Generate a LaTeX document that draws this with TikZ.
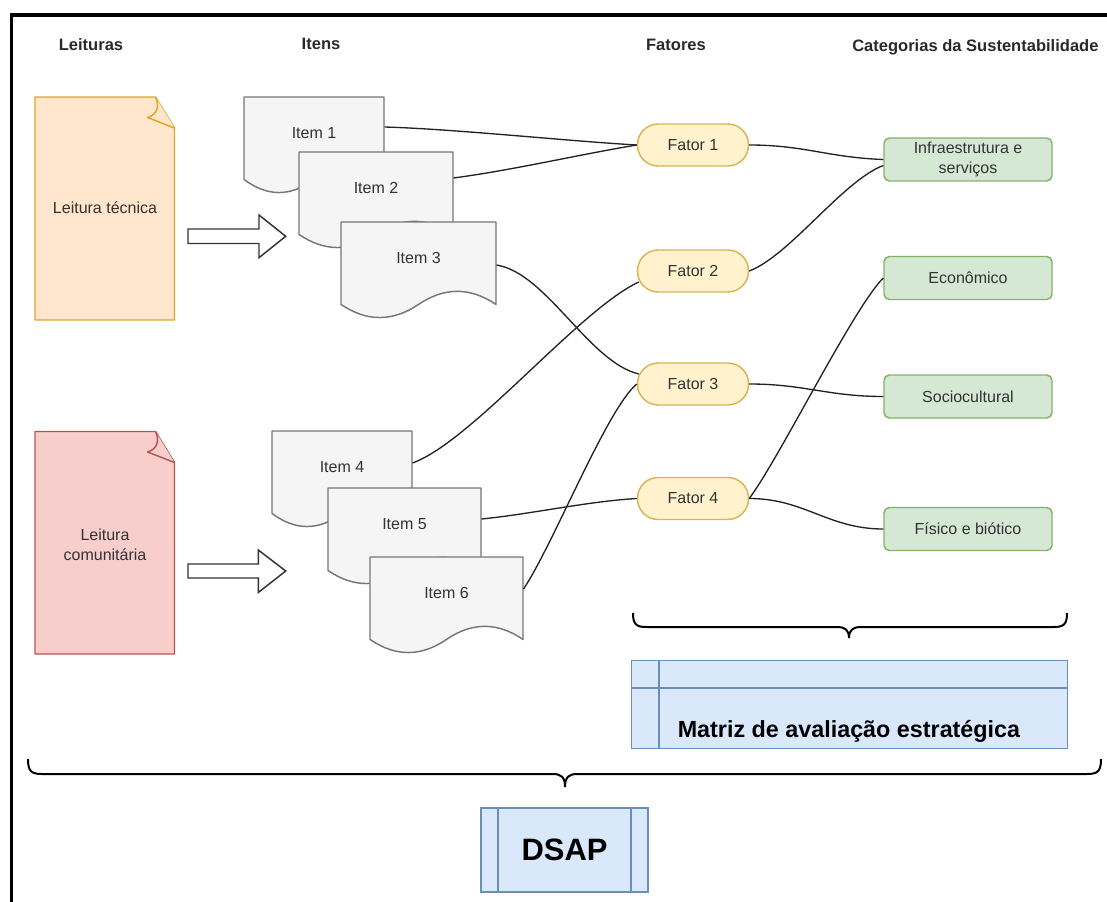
\documentclass[tikz,border=0pt]{standalone}
\usepackage{fontspec}
\setmainfont{Liberation Sans}
\definecolor{txt}{HTML}{333333}
\definecolor{orfill}{HTML}{FFE6CC}
\definecolor{ordraw}{HTML}{DDA52A}
\definecolor{rdfill}{HTML}{F8CECC}
\definecolor{rddraw}{HTML}{B85450}
\definecolor{grfill}{HTML}{F5F5F5}
\definecolor{grdraw}{HTML}{777777}
\definecolor{yefill}{HTML}{FFF2CC}
\definecolor{yedraw}{HTML}{D6B656}
\definecolor{gnfill}{HTML}{D5E8D4}
\definecolor{gndraw}{HTML}{82B366}
\definecolor{blfill}{HTML}{DAE8FC}
\definecolor{bldraw}{HTML}{6C8EBF}
\definecolor{lnk}{HTML}{222222}
\newcommand\docitem[6]{%
  \path[itembox] (#2,#3) -- ({#2+#4},#3) -- ({#2+#4},{#3+0.85*#5})
    .. controls ({#2+0.8333*#4},{#3+0.67*#5}) and ({#2+0.6667*#4},{#3+0.67*#5}) .. ({#2+0.5*#4},{#3+0.85*#5})
    .. controls ({#2+0.3333*#4},{#3+1.03*#5}) and ({#2+0.1667*#4},{#3+1.03*#5}) .. (#2,{#3+0.85*#5}) -- cycle;
  \node[inner sep=0, minimum width={#4*0.75pt}, minimum height={#5*0.75pt}, anchor=north west] (#1) at (#2,#3) {};
  \node[lbl] (#1t) at ({#2+#4/2},{#3+36}) {#6};
}
\begin{document}
\begin{tikzpicture}[x=0.75pt,y=-0.75pt,
  font=\fontsize{12}{15}\selectfont,
  lbl/.style={text=txt, align=center, inner sep=0},
  hdr/.style={text=txt!80!black, font=\fontsize{12.4}{15}\selectfont\bfseries, inner sep=0, anchor=base},
  fator/.style={draw=yedraw, fill=yefill, line width=1.1pt, rounded corners=15.5pt, minimum width=83.25pt, minimum height=31.5pt, inner sep=0, text=txt},
  cat/.style={draw=gndraw, fill=gnfill, line width=1.1pt, rounded corners=4pt, minimum width=126pt, minimum height=32.25pt, inner sep=0, text=txt, align=center},
  link/.style={draw=lnk, line width=1pt},
  itembox/.style={draw=grdraw, fill=grfill, line width=1.1pt, line join=round},
  notebox/.style={line width=1.1pt, line join=round},
  blockarrow/.style={draw=black!80, fill=white, line width=1.1pt, line join=miter},
  brc/.style={draw=black, line width=1.5pt},
  bluebox/.style={draw=bldraw, fill=blfill, line width=1.1pt, inner sep=0}
]
\useasboundingbox (0,0) rectangle (1107,902);
% frame
\draw[line width=2.6pt, line join=miter] (1107,15) -- (11.3,15) -- (11.3,902);
% headers
\node[hdr] (h1) at (91,51) {Leituras};
\node[hdr] (h2) at (321,50) {Itens};
\node[hdr] (h3) at (676,51) {Fatores};
\node[hdr, anchor=base west] (h4) at (852,52) {Categorias da Sustentabilidade};
% leitura tecnica
\path[notebox, draw=ordraw, fill=orfill] (35,97) -- (155.5,97) -- (174.5,128) -- (174.5,320) -- (35,320) -- cycle;
\path[notebox, draw=ordraw, fill=orfill] (155.5,97) .. controls (160,106) and (157,115) .. (147.5,117.5) -- (174.5,128);
\node[lbl] (lt) at (105,208) {Leitura técnica};
% leitura comunitaria
\path[notebox, draw=rddraw, fill=rdfill] (35,431.5) -- (155.5,431.5) -- (174.5,462.5) -- (174.5,654) -- (35,654) -- cycle;
\path[notebox, draw=rddraw, fill=rdfill] (155.5,431.5) .. controls (160,440.5) and (157,449.5) .. (147.5,452) -- (174.5,462.5);
\node[lbl] (lc) at (105,545) {Leitura\\comunitária};
% block arrows
\path[blockarrow] (188,229) -- (259,229) -- (259,215) -- (285.7,236.3) -- (259,257.7) -- (259,243.5) -- (188,243.5) -- cycle;
\path[blockarrow] (188,564) -- (258.3,564) -- (258.3,550) -- (285.7,571) -- (258.3,592.5) -- (258.3,578) -- (188,578) -- cycle;
% items
\docitem{i1}{244}{97}{140}{97}{Item 1}
\docitem{i2}{299}{152}{154}{97}{Item 2}
\docitem{i3}{341}{222}{155}{97}{Item 3}
\docitem{i4}{272}{431}{140}{97}{Item 4}
\docitem{i5}{328}{488}{153}{97}{Item 5}
\docitem{i6}{370}{557}{153}{97}{Item 6}
% fatores
\node[fator] (f1) at (693,145) {Fator 1};
\node[fator] (f2) at (693,271) {Fator 2};
\node[fator] (f3) at (693,384) {Fator 3};
\node[fator] (f4) at (693,498.5) {Fator 4};
% categorias
\node[cat] (inf) at (968,159.5) {Infraestrutura e\\serviços};
\node[cat] (eco) at (968,278) {Econômico};
\node[cat] (soc) at (968,396.5) {Sociocultural};
\node[cat] (fis) at (968,529) {Físico e biótico};
% links items -> fatores
\draw[link] ([shift={(0,30)}]i1.north east) .. controls +(70,2) and +(-70,-4) .. (f1.west);
\draw[link] ([shift={(0,26)}]i2.north east) .. controls +(60,-8) and +(-60,10) .. (f1.west);
\draw[link] ([shift={(0,43)}]i3.north east) .. controls +(50,8) and +(-50,-12) .. ([shift={(2,-10)}]f3.west);
\draw[link] ([shift={(0,32)}]i4.north east) .. controls +(60,-22) and +(-60,28) .. ([shift={(2,11)}]f2.west);
\draw[link] ([shift={(0,31)}]i5.north east) .. controls +(50,-5) and +(-50,3) .. (f4.west);
\draw[link] ([shift={(0,32)}]i6.north east) .. controls +(30,-45) and +(-30,25) .. (f3.west);
% links fatores -> categorias
\draw[link] (f1.east) .. controls +(55,0) and +(-55,-2) .. (inf.west);
\draw[link] (f2.east) .. controls +(40,-15) and +(-40,15) .. ([shift={(0,6)}]inf.west);
\draw[link] (f3.east) .. controls +(55,0) and +(-55,0) .. (soc.west);
\draw[link] (f4.east) .. controls +(30,-40) and +(-30,30) .. (eco.west);
\draw[link] (f4.east) .. controls +(55,0) and +(-55,0) .. (fis.west);
% brace over matriz
\draw[brc] (633,613) .. controls (633,624) and (636,627) .. (646,627) -- (837,627) .. controls (845,627) and (849,630) .. (849,638) .. controls (849,630) and (853,627) .. (861,627) -- (1054,627) .. controls (1064,627) and (1067,624) .. (1067,613);
% matriz box
\node[bluebox, minimum width=327pt, minimum height=66pt, anchor=north west] (matbox) at (631,660) {};
\draw[bldraw, line width=1.1pt] (matbox.west |- 0,688) -- (matbox.east |- 0,688) (659,0 |- matbox.north) -- (659,0 |- matbox.south);
\node[font=\fontsize{17.5}{20}\selectfont\bfseries, inner sep=0, anchor=base] (mat) at (849,737) {Matriz de avaliação estratégica};
% big brace
\draw[brc] (28,759) .. controls (28,771) and (31,774) .. (42,774) -- (553,774) .. controls (561,774) and (565,777) .. (565,787) .. controls (565,777) and (569,774) .. (577,774) -- (1087,774) .. controls (1098,774) and (1101,771) .. (1101,759);
% DSAP
\node[bluebox, minimum width=125.25pt, minimum height=63pt] (dsap) at (564.5,850) {};
\draw[bldraw, line width=1.1pt] (498,0 |- dsap.north) -- (498,0 |- dsap.south) (631,0 |- dsap.north) -- (631,0 |- dsap.south);
\node[font=\fontsize{23.2}{26}\selectfont\bfseries, inner sep=0] (dsapt) at (dsap.center) {DSAP};
\end{tikzpicture}
\end{document}
